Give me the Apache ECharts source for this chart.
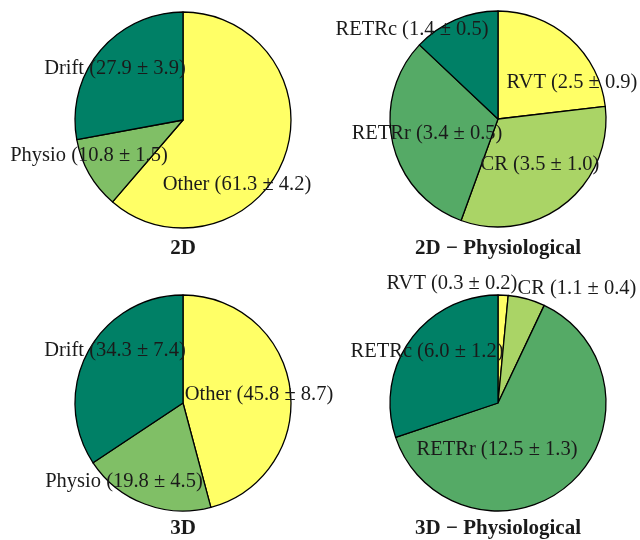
<!DOCTYPE html>
<html>
<head>
<meta charset="utf-8">
<script src="https://cdn.jsdelivr.net/npm/echarts@6/dist/echarts.min.js"></script>
<style>html,body{margin:0;padding:0;background:#fff;}#c{width:640px;height:540px;}</style>
</head>
<body>
<div id="c"></div>
<script>
// Data
const names2D = ['Other', 'Physio', 'Drift'];
const values2D = [61.3, 10.8, 27.9];
const errors2D = [4.2, 1.5, 3.9];

const names2DPhys = ['RVT', 'CR', 'RETRr', 'RETRc'];
const values2DPhys = [2.5, 3.5, 3.4, 1.4];
const errors2DPhys = [0.9, 1.0, 0.5, 0.5];

const names3D = ['Other', 'Physio', 'Drift'];
const values3D = [45.8, 19.8, 34.3];
const errors3D = [8.7, 4.5, 7.4];

const names3DPhys = ['RVT', 'CR', 'RETRr', 'RETRc'];
const values3DPhys = [0.3, 1.1, 12.5, 6.0];
const errors3DPhys = [0.2, 0.4, 1.3, 1.2];

const titles = ['2D', '2D \u2212 Physiological', '3D', '3D \u2212 Physiological'];

// Styling / layout
const colors3 = ['#FFFF66', '#80BF66', '#008066'];
const colors4 = ['#FFFF66', '#AAD466', '#55AA66', '#008066'];
const FONT = '"Liberation Serif", "Times New Roman", serif';
const FS = 20.5;
const TFS = 21;
const R = 108;
const LDY = 2;   // small vertical nudge for label glyph centering
const panels = [
  {names: names2D, values: values2D, errors: errors2D, colors: colors3, center: [183, 120],
   labelPos: [[237, 183], [89, 154], [115, 67]], titlePos: [183, 249]},
  {names: names2DPhys, values: values2DPhys, errors: errors2DPhys, colors: colors4, center: [498, 119],
   labelPos: [[572, 81], [540, 163], [427, 132], [412, 28]], titlePos: [498, 249]},
  {names: names3D, values: values3D, errors: errors3D, colors: colors3, center: [183, 403],
   labelPos: [[259, 393], [124, 480], [115, 349]], titlePos: [183, 529]},
  {names: names3DPhys, values: values3DPhys, errors: errors3DPhys, colors: colors4, center: [498, 403],
   labelPos: [[452, 282], [577, 287], [497, 448], [427, 350]], titlePos: [498, 529]}
];

const fmt = (v) => v.toFixed(1);

const series = panels.map((p, si) => ({
  type: 'pie',
  center: p.center,
  radius: R,
  startAngle: 90,
  clockwise: true,
  avoidLabelOverlap: false,
  silent: true,
  z: 2,
  itemStyle: {borderColor: '#000', borderWidth: 1.3},
  label: {
    show: true,
    position: 'inside',
    fontFamily: FONT,
    fontSize: FS,
    color: '#1a1a1a',
    formatter: (prm) => `${p.names[prm.dataIndex]} (${fmt(p.values[prm.dataIndex])} \u00b1 ${fmt(p.errors[prm.dataIndex])})`
  },
  labelLine: {show: false},
  labelLayout: (prm) => ({
    x: p.labelPos[prm.dataIndex][0],
    y: p.labelPos[prm.dataIndex][1] + LDY,
    align: 'center',
    verticalAlign: 'middle'
  }),
  data: p.names.map((n, i) => ({name: n, value: p.values[i], itemStyle: {color: p.colors[i]}}))
}));

const graphics = panels.map((p, i) => ({
  type: 'text',
  x: p.titlePos[0],
  y: p.titlePos[1],
  style: {
    text: titles[i],
    fontFamily: FONT,
    fontSize: TFS,
    fontWeight: 'bold',
    fill: '#1a1a1a',
    align: 'center',
    verticalAlign: 'middle'
  }
}));

const chart = echarts.init(document.getElementById('c'), null, {renderer: 'canvas'});
chart.setOption({
  animation: false,
  backgroundColor: '#ffffff',
  series: series,
  graphic: graphics
});
</script>
</body>
</html>
